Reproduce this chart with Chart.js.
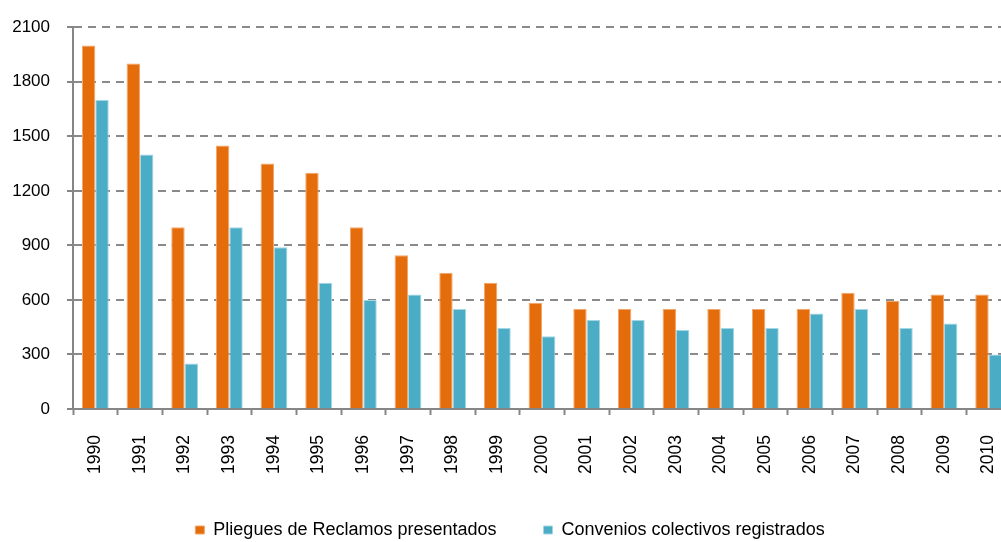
<!DOCTYPE html>
<html>
<head>
<meta charset="utf-8">
<title>Pliegues y convenios 1990-2010</title>
<script src="https://cdn.jsdelivr.net/npm/chart.js@4"></script>
<style>
  html, body { margin: 0; padding: 0; background: #fff; overflow: hidden; }
  #wrap { width: 1011px; height: 549px; }
</style>
</head>
<body>
<div id="wrap"><canvas id="chart" width="1011" height="549"></canvas></div>
<script>
const years = ['1990', '1991', '1992', '1993', '1994', '1995', '1996', '1997', '1998', '1999', '2000',
               '2001', '2002', '2003', '2004', '2005', '2006', '2007', '2008', '2009', '2010'];
const pliegues = [2000, 1900, 1000, 1450, 1350, 1300, 1000, 845, 750, 695, 585,
                  550, 550, 550, 550, 550, 550, 640, 595, 630, 630];
const convenios = [1700, 1400, 250, 1000, 890, 695, 600, 630, 550, 445, 400,
                   490, 490, 435, 445, 445, 525, 550, 445, 470, 300];
const yMin = 0, yMax = 2100, yStep = 300;

const axisGrey = '#868686';
Chart.defaults.font.family = "'Liberation Sans', Arial, sans-serif";
Chart.defaults.color = '#000';

new Chart(document.getElementById('chart'), {
    type: 'bar',
    data: {
        labels: years,
        datasets: [
            { label: 'Pliegues de Reclamos presentados', data: pliegues,
              backgroundColor: '#E46C0A', borderColor: '#F2A66C', borderWidth: 1,
              categoryPercentage: 0.6, barPercentage: 1 },
            { label: 'Convenios colectivos registrados', data: convenios,
              backgroundColor: '#4BACC6', borderColor: '#A4D6E3', borderWidth: 1,
              categoryPercentage: 0.6, barPercentage: 1 }
        ]
    },
    options: {
        responsive: false,
        animation: false,
        layout: { padding: { top: 20, left: 9, right: 0, bottom: 0 } },
        plugins: {
            legend: {
                position: 'bottom',
                labels: { boxWidth: 9, boxHeight: 8, padding: 47, font: { size: 18 } }
            },
            tooltip: { enabled: false }
        },
        scales: {
            x: {
                grid: { display: true, drawOnChartArea: false, offset: true,
                        tickLength: 6, tickColor: axisGrey, tickWidth: 2 },
                border: { color: axisGrey, width: 2 },
                ticks: { minRotation: 90, maxRotation: 90, padding: 20, font: { size: 17.5 } },
                afterFit: function (scale) {
                    // the source chart runs off the right edge, so no room is kept for the last label
                    scale.height = 65;
                    scale.paddingLeft = 0;
                    scale.paddingRight = 0;
                }
            },
            y: {
                min: yMin, max: yMax,
                ticks: { stepSize: yStep, padding: 17, font: { size: 17 }, callback: v => v },
                grid: {
                    color: ctx => ctx.tick.value === 0 ? 'rgba(0,0,0,0)' : '#8a8a8a',
                    lineWidth: 2, tickLength: 6, tickColor: axisGrey, tickWidth: 2
                },
                border: { color: axisGrey, width: 2, dash: [8, 6] },
                afterFit: function (scale) { scale.width = 64; }
            }
        }
    }
});
</script>
</body>
</html>
